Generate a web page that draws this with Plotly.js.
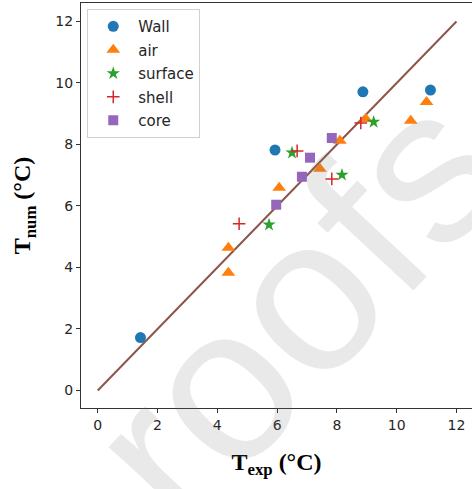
<!DOCTYPE html>
<html>
<head>
<meta charset="utf-8">
<script src="https://cdn.plot.ly/plotly-3.0.1.min.js"></script>
<style>html,body{margin:0;padding:0;background:#fff;}#chart{width:472px;height:489px;}</style>
</head>
<body>
<div id="chart"></div>
<script>
// Data
const wallX = [1.43, 5.93, 8.87, 11.13];
const wallY = [1.72, 7.82, 9.71, 9.77];
const airX = [11.0, 10.47, 8.97, 8.1, 7.43, 6.07, 4.37, 4.37];
const airY = [9.38, 8.77, 8.83, 8.12, 7.21, 6.59, 4.64, 3.83];
const surfaceX = [9.23, 6.5, 8.17, 5.73];
const surfaceY = [8.73, 7.73, 7.01, 5.39];
const shellX = [8.8, 6.67, 7.83, 4.73];
const shellY = [8.7, 7.79, 6.88, 5.42];
const coreX = [7.83, 7.1, 6.83, 5.97];
const coreY = [8.21, 7.57, 6.95, 6.04];
const lineX = [0, 12];
const lineY = [0, 12];
const tickVals = [0, 2, 4, 6, 8, 10, 12];

const mk = (name, x, y, symbol, color, size, extra) => Object.assign({
  type: 'scatter', mode: 'markers', name: name, x: x, y: y, legendgroup: name,
  marker: Object.assign({symbol: symbol, color: color, size: size, line: {width: 0}}, extra || {}),
  cliponaxis: false
});

const traces = [
  {type: 'scatter', mode: 'lines', x: lineX, y: lineY, showlegend: false,
   line: {color: '#8c564b', width: 2}, hoverinfo: 'skip'},
  mk('Wall', wallX, wallY, 'circle', '#1f77b4', 11),
  mk('air', airX, airY, 'triangle-up', '#ff7f0e', 12),
  mk('surface', surfaceX, surfaceY, 'star', '#2ca02c', 10),
  mk('shell', shellX, shellY, 'cross-thin', '#d62728', 9, {line: {color: '#d62728', width: 1.5}}),
  mk('core', coreX, coreY, 'square', '#9467bd', 10)
];

const axisFont = {family: 'DejaVu Sans', size: 14, color: '#262626'};
const layout = {
  width: 472, height: 489,
  margin: {l: 81, r: 0, t: 3, b: 81},
  paper_bgcolor: '#fff', plot_bgcolor: '#fff',
  showlegend: true,
  legend: {
    x: 0.016, y: 0.985, xanchor: 'left', yanchor: 'top',
    bgcolor: 'rgba(255,255,255,0.8)', bordercolor: '#d0d0d0', borderwidth: 1,
    font: {family: 'DejaVu Sans', size: 15, color: '#262626'},
    itemwidth: 40, tracegroupgap: 1
  },
  xaxis: {
    range: [-0.56, 12.52], tickvals: tickVals, ticktext: tickVals.map(String),
    showgrid: false, zeroline: false, showline: true, linecolor: '#333', linewidth: 1,
    mirror: true, ticks: 'outside', ticklen: 4, tickcolor: '#333', tickfont: axisFont,
    title: {text: '<b>T<sub>exp</sub> (°C)</b>', font: {family: 'Liberation Serif', size: 24, color: '#000'}, standoff: 21}
  },
  yaxis: {
    range: [-0.57, 12.6], tickvals: tickVals, ticktext: tickVals.map(String),
    showgrid: false, zeroline: false, showline: true, linecolor: '#333', linewidth: 1,
    mirror: false, ticks: 'outside', ticklen: 4, tickcolor: '#333', tickfont: axisFont,
    title: {text: '<b>T<sub>num</sub> (°C)</b>', font: {family: 'Liberation Serif', size: 24, color: '#000'}, standoff: 17}
  },
  annotations: [{
    text: 'roofs', xref: 'paper', yref: 'paper', x: 0.545, y: 0.25,
    xanchor: 'center', yanchor: 'middle',
    showarrow: false, textangle: -47,
    font: {family: 'Liberation Sans', size: 220, color: 'rgba(120,120,120,0.16)'}
  }]
};

Plotly.newPlot('chart', traces, layout, {displayModeBar: false, staticPlot: true});
</script>
</body>
</html>
